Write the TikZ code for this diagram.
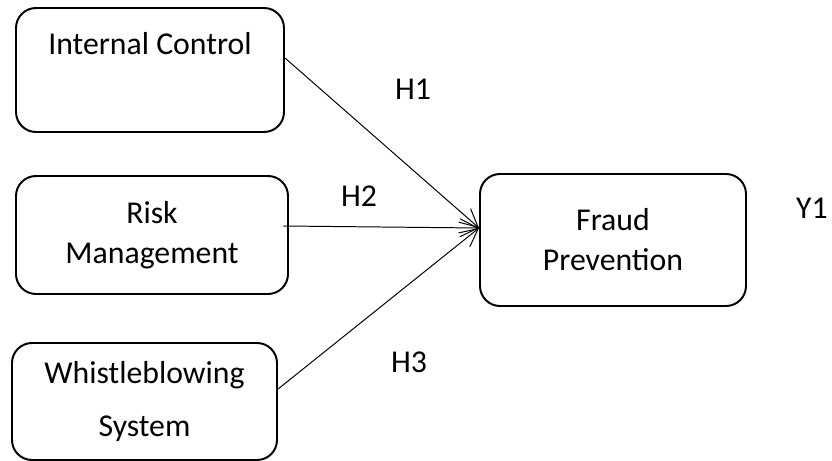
\documentclass[tikz,border=0pt]{standalone}
\usepackage{fontspec}
\setmainfont{Carlito}
\usetikzlibrary{calc,arrows.meta}

\begin{document}
\begin{tikzpicture}
    \tikzstyle{every node}=[font=\fontsize{22.6}{28.5}\selectfont]
    \tikzstyle{varbox}=[draw, line width=1.4pt, rounded corners=0.5cm, inner sep=0pt, align=center]
    \tikzstyle{conn}=[line width=0.7pt, -{Straight Barb[length=4.5mm,width=4.5mm]}]
    \useasboundingbox (0,0) rectangle (20.8,-11.525);
    % draw boxes
    \node[varbox, minimum width=6.7cm, text height=1.175cm, text depth=1.925cm] (ic) at (3.75,-1.75) {Internal Control};
    \node[varbox, minimum width=6.8cm, minimum height=2.95cm] (rm) at (3.8,-5.875) {Risk\\Management};
    \node[varbox, minimum width=6.625cm, minimum height=2.925cm] (ws) at (3.6125,-10.0375) {Whistleblowing\\[0.3cm]System};
    \node[varbox, minimum width=6.65cm, minimum height=3.3cm] (fp) at (15.325,-6) {Fraud\\Prevention};
    % draw arrows
    \coordinate (tip) at ($(fp.west)+(0,0.3)$);
    \draw[conn] ($(ic.east)+(0,0.3)$) -- (tip);
    \draw[conn] ($(rm.east)+(-0.15,0.225)$) -- (tip);
    \draw[conn] ($(ws.east)+(0,0.31)$) -- (tip);
    % draw labels
    \node (h1) at (10.325,-2.225) {H1};
    \node (h2) at (8.975,-4.9) {H2};
    \node (h3) at (10.225,-9.05) {H3};
    \node (y1) at (20.3,-5.2) {Y1};
\end{tikzpicture}
\end{document}
